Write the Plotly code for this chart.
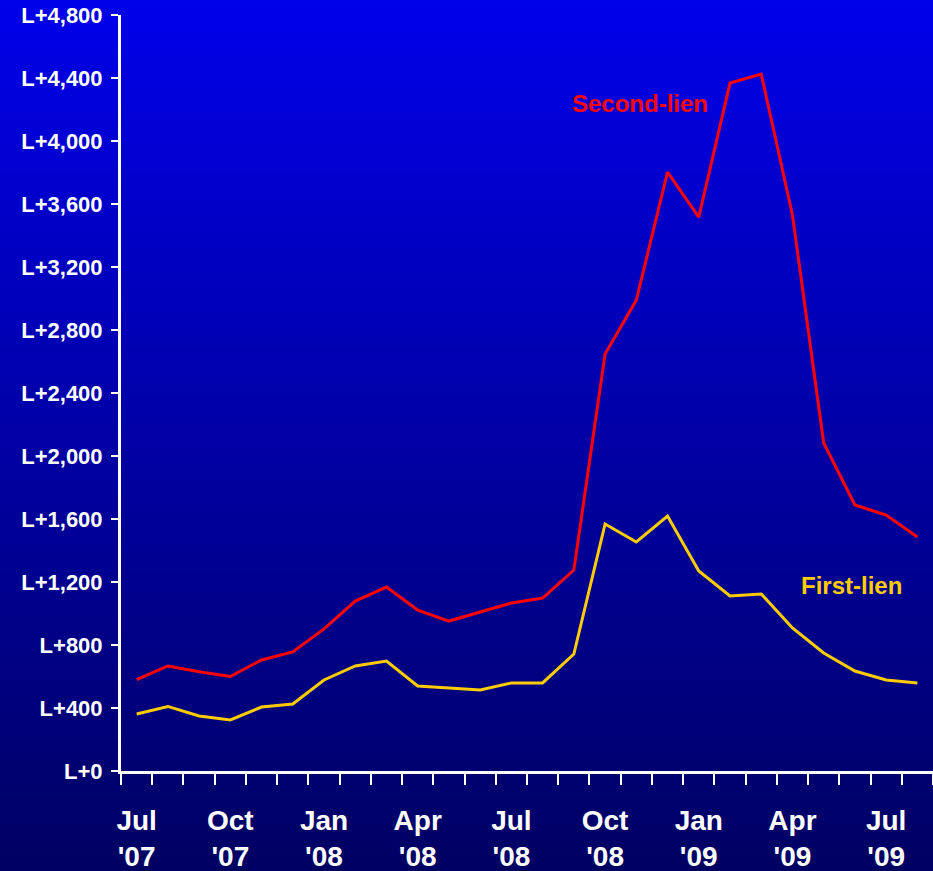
import plotly.graph_objects as go

# Monthly spreads over LIBOR (bp), Jul 2007 - Aug 2009
months = ["Jul '07", "Aug '07", "Sep '07", "Oct '07", "Nov '07", "Dec '07",
          "Jan '08", "Feb '08", "Mar '08", "Apr '08", "May '08", "Jun '08",
          "Jul '08", "Aug '08", "Sep '08", "Oct '08", "Nov '08", "Dec '08",
          "Jan '09", "Feb '09", "Mar '09", "Apr '09", "May '09", "Jun '09",
          "Jul '09", "Aug '09"]
second_lien = [580, 667, 630, 600, 705, 756, 902, 1079, 1168, 1022, 952, 1010,
               1067, 1098, 1276, 2648, 2990, 3803, 3517, 4368, 4425, 3530,
               2083, 1689, 1625, 1486]
first_lien = [362, 410, 349, 324, 406, 425, 578, 667, 698, 540, 527, 514,
              559, 559, 743, 1568, 1454, 1619, 1270, 1111, 1124, 908,
              749, 635, 578, 559]

quarter_idx = [0, 3, 6, 9, 12, 15, 18, 21, 24]
quarter_text = ["Jul<br>'07", "Oct<br>'07", "Jan<br>'08", "Apr<br>'08",
                "Jul<br>'08", "Oct<br>'08", "Jan<br>'09", "Apr<br>'09",
                "Jul<br>'09"]
y_ticks = list(range(0, 4801, 400))
y_text = [f"L+{v:,}" for v in y_ticks]

FONT = "Arial, 'Liberation Sans', sans-serif"
RED = "#FF0000"
GOLD = "#FFCC00"

x = list(range(len(months)))

fig = go.Figure()
fig.add_trace(go.Scatter(x=x, y=second_lien, mode="lines", name="Second-lien",
                         text=months, line=dict(color=RED, width=3)))
fig.add_trace(go.Scatter(x=x, y=first_lien, mode="lines", name="First-lien",
                         text=months, line=dict(color=GOLD, width=3)))

# Vertical blue gradient behind everything
W, H = 933, 871
ML, MR, MT, MB = 121, 0, 15, 100
pw, ph = W - ML - MR, H - MT - MB
top = (0, 0, 234)
bot = (0, 0, 98)
n = 120
shapes = []
for k in range(n):
    p0 = H * k / n - 1
    p1 = H * (k + 1) / n + 1
    t = (k + 0.5) / n
    c = tuple(round(top[j] + (bot[j] - top[j]) * t) for j in range(3))
    shapes.append(dict(type="rect", xref="paper", yref="paper",
                       x0=-ML / pw - 0.01, x1=1.01,
                       y0=(H - MB - p1) / ph, y1=(H - MB - p0) / ph,
                       fillcolor=f"rgb{c}", line=dict(width=0), layer="below"))

fig.update_layout(
    width=W, height=H,
    margin=dict(l=ML, r=MR, t=MT, b=MB, autoexpand=False),
    paper_bgcolor="rgb(0,0,98)",
    plot_bgcolor="rgba(0,0,0,0)",
    showlegend=False,
    shapes=shapes,
    font=dict(family=FONT, color="white"),
    xaxis=dict(
        range=[-0.5, len(months) - 0.5],
        tickvals=quarter_idx, ticktext=quarter_text,
        ticks="", ticklabelstandoff=22, automargin=False,
        tickfont=dict(size=28, color="white", family=FONT, weight=700),
        showgrid=False, zeroline=False,
        showline=True, linecolor="white", linewidth=3,
        minor=dict(ticks="outside", tick0=-0.5, dtick=1, ticklen=11,
                   tickwidth=2, tickcolor="white", showgrid=False),
    ),
    yaxis=dict(
        range=[0, 4800],
        tickvals=y_ticks, ticktext=y_text,
        ticks="outside", ticklen=7, tickwidth=2, tickcolor="white",
        tickfont=dict(size=22, color="white", family=FONT, weight=700),
        ticklabelstandoff=4, automargin=False,
        showgrid=False, zeroline=False,
        showline=True, linecolor="white", linewidth=3,
    ),
    annotations=[
        dict(x=16.12, y=4241, xref="x", yref="y", text="Second-lien",
             showarrow=False, font=dict(size=24, color=RED, family=FONT, weight=700)),
        dict(x=22.9, y=1175, xref="x", yref="y", text="First-lien",
             showarrow=False, font=dict(size=24, color=GOLD, family=FONT, weight=700)),
    ],
)

fig.write_html("out.html")
